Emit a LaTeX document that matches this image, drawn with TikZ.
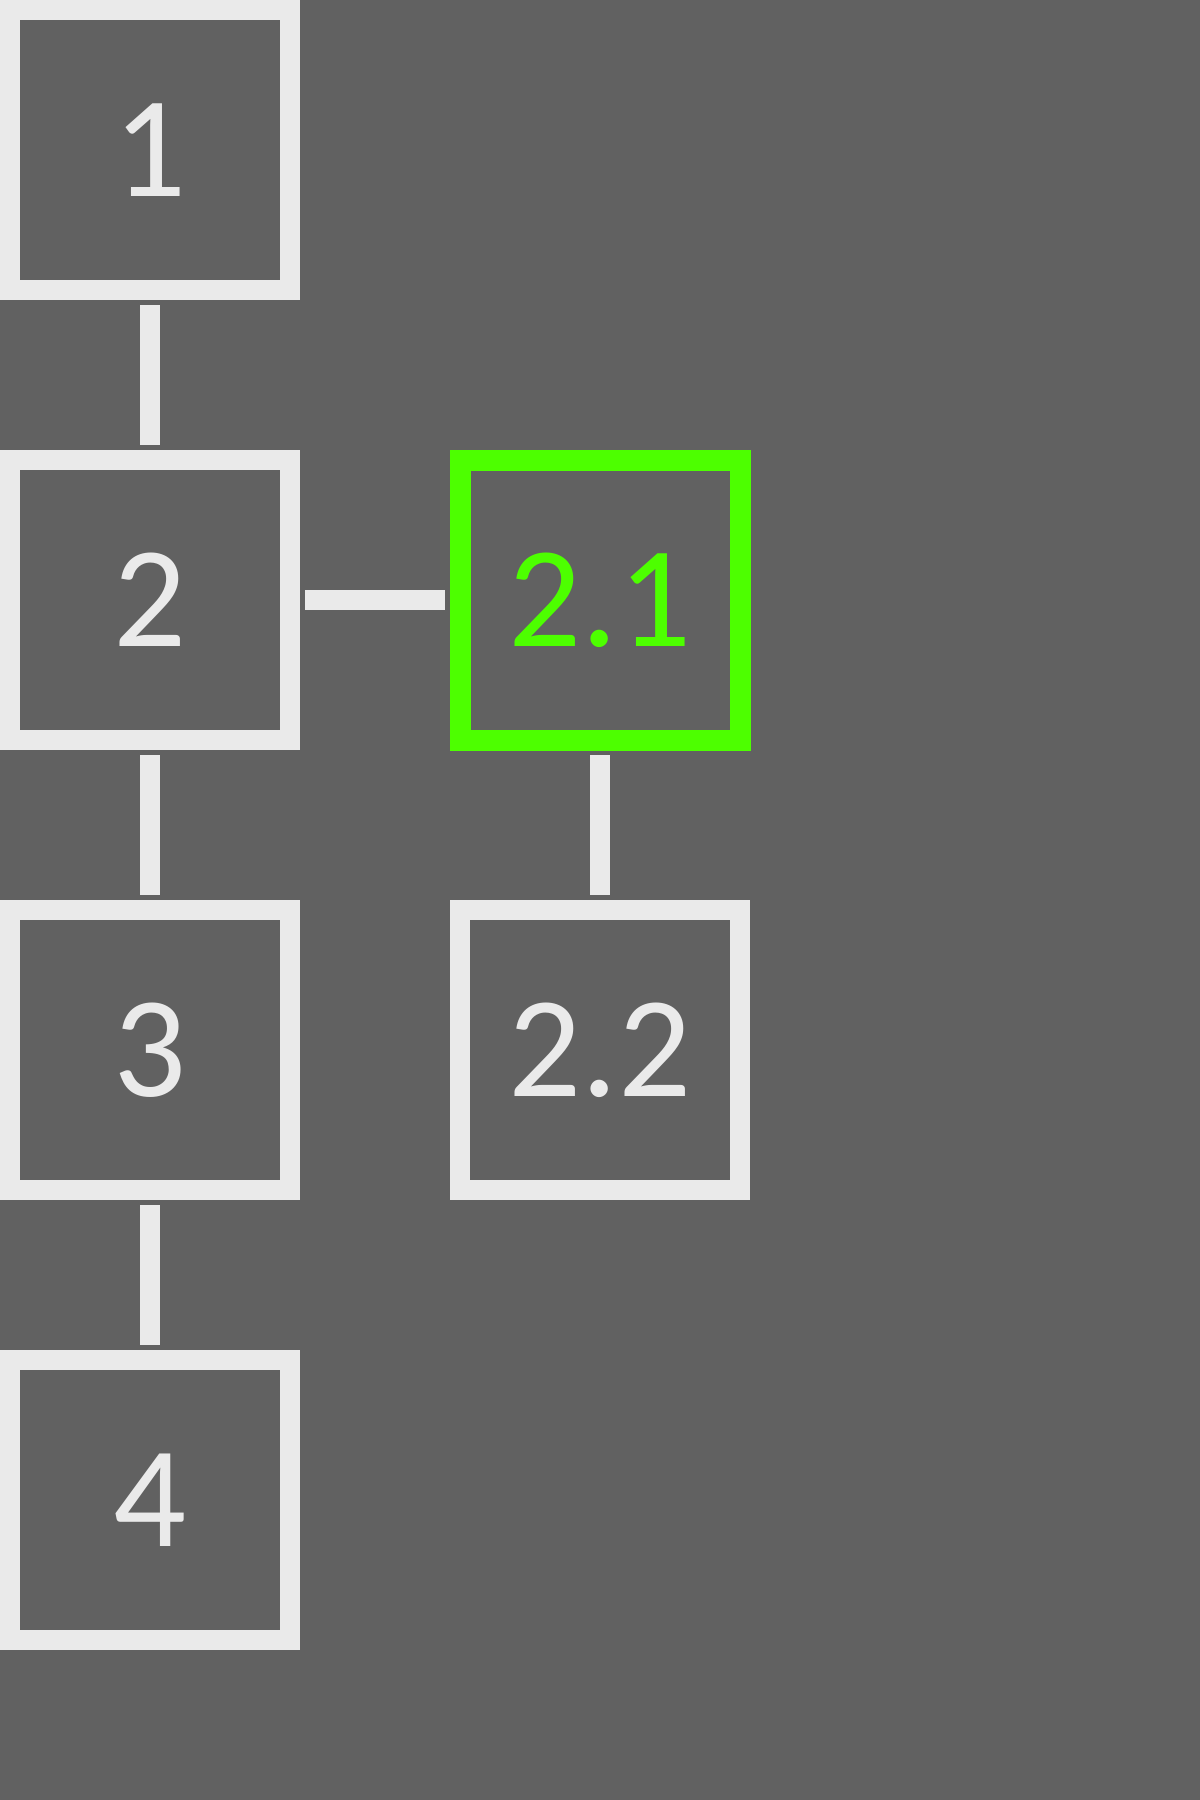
\documentclass[tikz,border=0pt]{standalone}
\usepackage{fontspec}
\setmainfont{Carlito}
\definecolor{bggray}{HTML}{616161}
\definecolor{boxgray}{HTML}{EAEAEA}
\definecolor{selgreen}{HTML}{4DFF00}
\tikzset{
  stepbox/.style={draw=boxgray, line width=0.2cm, minimum size=2.8cm, inner sep=0pt,
    outer sep=0.15cm, text=boxgray, font=\fontsize{41}{41}\selectfont},
  selbox/.style={stepbox, draw=selgreen, line width=0.21cm, text=selgreen},
  link/.style={boxgray, line width=0.2cm}
}
\begin{document}
\begin{tikzpicture}
        % Background
        \fill[bggray] (0,0) rectangle (12,-18);
        \useasboundingbox (0,0) rectangle (12,-18);

        % Main column of steps
        \foreach \n [count=\i from 0] in {1,2,3,4}
          \node[stepbox] (b\n) at (1.5, -1.5-4.5*\i) {\n};

        % Side branch in the second column
        \node[selbox] (b21) at (6, -6) {2.1};
        \node[stepbox] (b22) at (6, -10.5) {2.2};

        % Links between steps
        \draw[link] (b1) -- (b2);
        \draw[link] (b2) -- (b3);
        \draw[link] (b3) -- (b4);
        \draw[link] (b2) -- (b21);
        \draw[link] (b21) -- (b22);
      \end{tikzpicture}
\end{document}
